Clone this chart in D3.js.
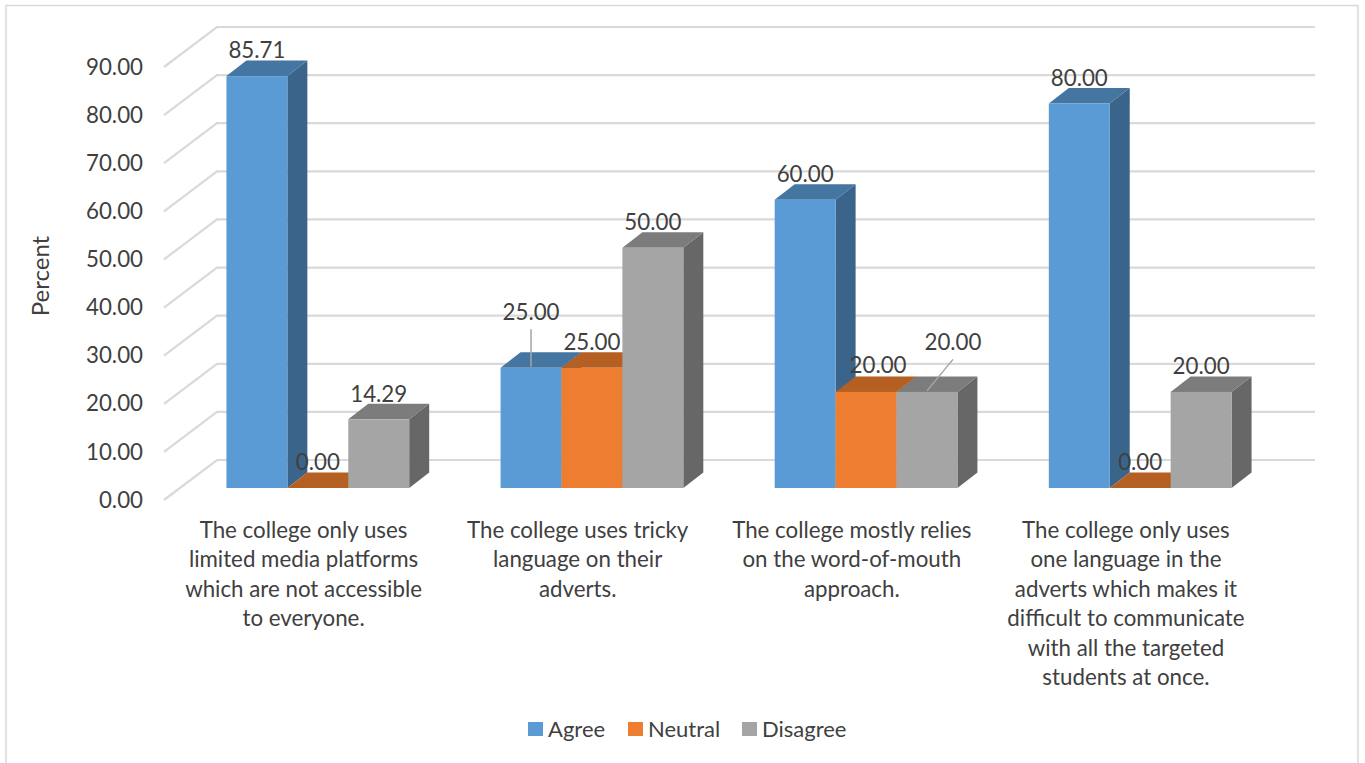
<!DOCTYPE html>
<html>
<head>
<meta charset="utf-8">
<script src="https://cdn.jsdelivr.net/npm/d3@7"></script>
<style>
  html, body { margin: 0; padding: 0; background: #fff; }
  svg { display: block; }
  text { font-family: Lato, "Open Sans", sans-serif; }
</style>
</head>
<body>
<svg id="chart" width="1365" height="763"></svg>
<script>
// Survey responses per statement, in percent
const categories = [
  ["The college only uses", "limited media platforms", "which are not accessible", "to everyone."],
  ["The college uses tricky", "language on their", "adverts."],
  ["The college mostly relies", "on the word-of-mouth", "approach."],
  ["The college only uses", "one language in the", "adverts which makes it", "difficult to communicate", "with all the targeted", "students at once."]
];
const seriesNames = ["Agree", "Neutral", "Disagree"];
const agree = [85.71, 25, 60, 80];
const neutral = [0, 25, 20, 0];
const disagree = [14.29, 50, 20, 20];
const seriesValues = [agree, neutral, disagree];
const tickValues = [0, 10, 20, 30, 40, 50, 60, 70, 80, 90];

const faceColors = ["#5b9bd5", "#ed7d31", "#a5a5a5"];
const topColors = ["#4575a1", "#b55f22", "#7c7c7c"];
const sideColors = ["#3a6489", "#8f4c1c", "#676767"];

const FONT = 22.3;
const TEXT = "#404040";
const GRID = "#d9d9d9";

const svg = d3.select("#chart");

// Outer chart frame
svg.append("rect")
  .attr("x", 6).attr("y", 5.5).attr("width", 1352).attr("height", 790)
  .attr("fill", "#fff").attr("stroke", GRID).attr("stroke-width", 1.5);

// The 3D box: a front plane for axis ticks, a back wall for gridlines,
// and a bar plane part-way through the depth.
const wallLeft = 164, wallDx = 53, wallRight = 1315;
const barDx = 20, barDy = 15.5;
const yFront = d3.scaleLinear().domain([0, 90]).range([500, 67]);
const yBack = d3.scaleLinear().domain([0, 90]).range([460, 27]);
const yBar = d3.scaleLinear().domain([0, 90]).range([488, 55.5]);

const xGroup = d3.scaleBand().domain(d3.range(categories.length))
  .range([wallLeft, 1260.5]).paddingInner(1 / 3).paddingOuter(1 / 6);
const xSeries = d3.scaleBand().domain(d3.range(seriesNames.length))
  .range([0, xGroup.bandwidth()]);
const barShift = 16.75;

// Gridlines across the back wall and down the side wall
const grid = svg.append("g").attr("stroke", GRID).attr("stroke-width", 2.2).attr("fill", "none");
grid.selectAll("path").data(tickValues).join("path")
  .attr("d", d => d3.line()([
    [wallLeft, yFront(d)],
    [wallLeft + wallDx, yBack(d)],
    [wallRight, yBack(d)]
  ]));

// Value axis, labels only
const axis = svg.append("g")
  .attr("transform", "translate(151,0)")
  .call(d3.axisLeft(yFront).tickValues(tickValues).tickFormat(d3.format(".2f")).tickSize(0).tickPadding(8));
axis.select(".domain").remove();
axis.selectAll("text").attr("font-size", FONT).attr("fill", TEXT).style("font-family", "Lato");

// Bars: left to right so each one overlaps the previous bar's side
const barRows = [];
categories.forEach((_, c) => seriesNames.forEach((_, s) => {
  barRows.push({ c, s, value: seriesValues[s][c] });
}));
const barLeft = d => xGroup(d.c) + barShift + xSeries(d.s);
const bw = xSeries.bandwidth();

const bars = svg.append("g").selectAll("g").data(barRows).join("g");
bars.append("path").attr("fill", d => sideColors[d.s])
  .attr("d", d => {
    const r = barLeft(d) + bw, t = yBar(d.value), b = yBar(0);
    return d3.line()([[r, t], [r + barDx, t - barDy], [r + barDx, b - barDy], [r, b]]) + "Z";
  });
bars.append("path").attr("fill", d => topColors[d.s])
  .attr("d", d => {
    const l = barLeft(d), t = yBar(d.value);
    return d3.line()([[l, t], [l + barDx, t - barDy], [l + bw + barDx, t - barDy], [l + bw, t]]) + "Z";
  });
bars.append("rect").attr("fill", d => faceColors[d.s])
  .attr("x", barLeft).attr("y", d => yBar(d.value))
  .attr("width", bw).attr("height", d => yBar(0) - yBar(d.value));

// Hand-placed data labels, keyed by category and series
const labelNudge = { "1-0": [0, -30], "2-1": [12, -1], "2-2": [26, -24] };
const nudge = d => labelNudge[d.c + "-" + d.s] || [0, 0];
const labelX = d => barLeft(d) + bw / 2 + nudge(d)[0];
const labelY = d => yBar(d.value) - 25.5 + nudge(d)[1];

// Leader lines for the two labels pulled away from their bars
const leaderKeys = ["1-0", "2-2"];
svg.append("g").attr("stroke", "#a6a6a6").attr("stroke-width", 1.5)
  .selectAll("line").data(barRows.filter(d => leaderKeys.includes(d.c + "-" + d.s))).join("line")
  .attr("x1", d => labelX(d))
  .attr("y1", d => labelY(d) + 17)
  .attr("x2", d => barLeft(d) + bw / 2)
  .attr("y2", d => yBar(d.value) - 1);

svg.append("g").selectAll("text").data(barRows).join("text")
  .attr("x", labelX).attr("y", labelY).attr("dy", "0.35em")
  .attr("text-anchor", "middle").attr("font-size", FONT).attr("fill", TEXT)
  .text(d => d3.format(".2f")(d.value));

// Category labels
const catText = svg.append("g").selectAll("text").data(categories).join("text")
  .attr("text-anchor", "middle").attr("font-size", FONT).attr("fill", TEXT);
catText.selectAll("tspan").data((d, i) => d.map(line => ({ line, i }))).join("tspan")
  .attr("x", d => xGroup(d.i) + xGroup.bandwidth() / 2 + 2.5)
  .attr("y", (d, j) => 530 + j * 29.5)
  .attr("dy", "0.35em")
  .text(d => d.line);

// Axis title
svg.append("text")
  .attr("transform", "translate(41,276) rotate(-90)")
  .attr("text-anchor", "middle").attr("dy", "0.35em")
  .attr("font-size", 24).attr("fill", TEXT).text("Percent");

// Legend
const legendSwatchX = [528, 628, 742];
const legend = svg.append("g").selectAll("g").data(seriesNames).join("g")
  .attr("transform", (d, i) => `translate(${legendSwatchX[i]},729)`);
legend.append("rect").attr("y", -7).attr("width", 15).attr("height", 14)
  .attr("fill", (d, i) => faceColors[i]);
legend.append("text").attr("x", 20).attr("dy", "0.35em")
  .attr("font-size", 22).attr("fill", TEXT).text(d => d);
</script>
</body>
</html>
